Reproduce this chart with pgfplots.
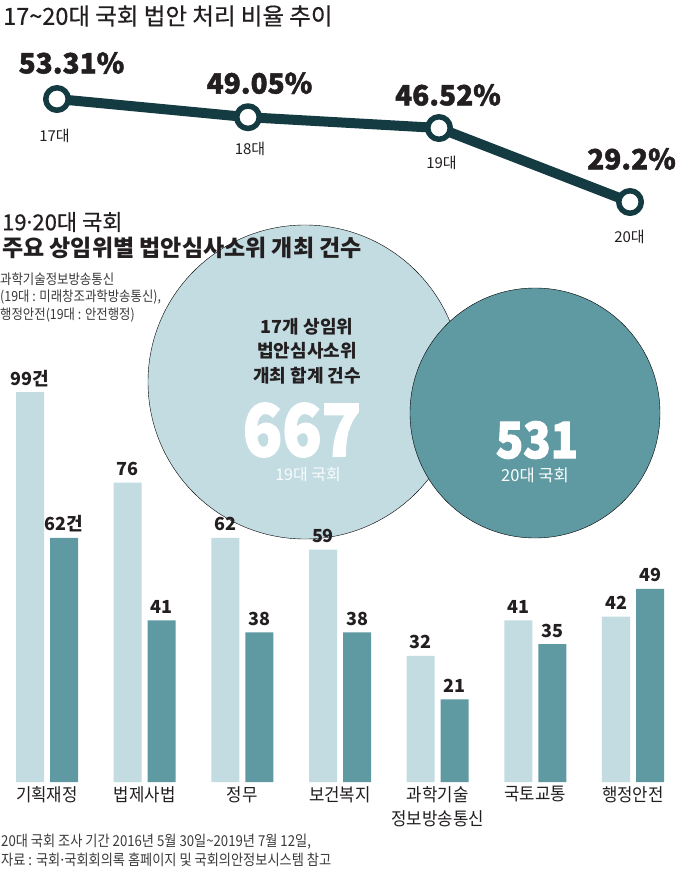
\documentclass[border=0pt]{standalone}
\usepackage{fontspec}
\usepackage{pgfplots}
\pgfplotsset{compat=1.18}
\usepackage{pgfplotstable}
\setmainfont{Noto Sans CJK KR}
\newfontfamily\cond{Noto Sans CJK KR}[FakeStretch=0.88]
\newfontfamily\condn{Noto Sans CJK KR}[FakeStretch=0.885]
\newfontfamily\condc{Noto Sans CJK KR}[FakeStretch=0.93]
\newfontfamily\med{Noto Sans CJK KR}[FakeBold=0.5]
\newfontfamily\heavy{Noto Sans CJK KR}[BoldFeatures={FakeBold=1.6}]
\newfontfamily\heavyc{Noto Sans CJK KR}[BoldFeatures={FakeBold=2.2, FakeStretch=0.9}]
\newfontfamily\lat{Noto Sans}
\newcommand\fs[2]{\fontsize{#1}{#2}\selectfont}
\newcommand\mdot{{\lat ·}}
\definecolor{lightc}{HTML}{C3DCE2}
\definecolor{darkc}{HTML}{5F9AA3}
\definecolor{linec}{HTML}{143B42}
\definecolor{textc}{HTML}{231F20}
\definecolor{notec}{HTML}{3A3A3A}

\pgfplotstableread{
x  y     lab    dx    dy   era   ex    ey
17 53.31 53.31  14.5  36   17대  -2.5  -37
18 49.05 49.05  11.5  34   18대  2     -32
19 46.52 46.52  9     33   19대  2.5   -35
20 29.2  29.2   1.5   43   20대  -0.5  -35
}\linedata

\pgfplotstableread{
i  v19 v20 l19  l20
0  99  62  99건 62건
1  76  41  76   41
2  62  38  62   38
3  59  38  59   38
4  32  21  32   21
5  41  35  41   35
6  42  49  42   49
}\bardata

\begin{document}
\begin{tikzpicture}
\path[use as bounding box] (0pt,0pt) rectangle (680pt,-870pt);
\fill[white] (0pt,0pt) rectangle (680pt,-870pt);

% canvas axis for the two total bubbles
\begin{axis}[at={(0pt,-870pt)}, anchor=south west, scale only axis,
  width=680pt, height=870pt, xmin=0, xmax=680, ymin=0, ymax=870,
  hide axis, clip=false]
\addplot[only marks, mark=*, mark size=157pt, mark options={draw=none, fill=lightc}] coordinates {(305,488)};
\addplot[only marks, mark=*, mark size=125pt, mark options={draw=none, fill=darkc}] coordinates {(535,457)};
\end{axis}

% line chart
\begin{axis}[at={(57pt,-202pt)}, anchor=south west, scale only axis,
  width=573pt, height=103pt, xmin=17, xmax=20, ymin=29.2, ymax=53.31,
  hide axis, clip=false]
\addplot[linec, line width=10pt, line join=round, mark=*, mark size=11.25pt,
  mark options={fill=white, draw=linec, line width=5.5pt},
  point meta=explicit symbolic,
  visualization depends on={\thisrow{dx}\as\dx},
  visualization depends on={\thisrow{dy}\as\dy},
  nodes near coords={\pgfplotspointmeta\%},
  every node near coord/.append style={anchor=center, xshift=\dx, yshift=\dy,
    font=\heavy\fs{28}{30}\bfseries, text=textc, inner sep=0pt}]
  table[x=x, y=y, meta=lab] {\linedata};
\addplot[draw=none, no marks,
  point meta=explicit symbolic,
  visualization depends on={\thisrow{ex}\as\ex},
  visualization depends on={\thisrow{ey}\as\ey},
  nodes near coords={\pgfplotspointmeta},
  every node near coord/.append style={anchor=center, xshift=\ex, yshift=\ey,
    font=\fs{15}{16}, text=textc, inner sep=0pt}]
  table[x=x, y=y, meta=era] {\linedata};
\end{axis}

% bar chart
\begin{axis}[at={(47pt,-782pt)}, anchor=south west, scale only axis,
  width=586pt, height=390pt, xmin=0, xmax=6, ymin=0, ymax=99,
  clip=false, axis line style={draw=none}, tick style={draw=none},
  ytick=\empty, xtick={0,...,6},
  xticklabels={기획재정, 법제사법, 정무, 보건복지, {과학기술\\정보방송통신}, 국토교통, 행정안전},
  xticklabel style={anchor=north, align=center, inner sep=0pt, yshift=-4pt,
    font=\condc\fs{18}{24}, text=textc},
  nodes near coords={\pgfplotspointmeta},
  point meta=explicit symbolic,
  every node near coord/.append style={anchor=base, yshift=7pt, inner sep=0pt,
    font=\fs{18}{20}\bfseries, text=textc}]
\addplot[ybar, bar width=28pt, bar shift=-17pt, fill=lightc, draw=none,
  every node near coord/.append style={xshift=-17pt}]
  table[x=i, y=v19, meta=l19] {\bardata};
\addplot[ybar, bar width=28pt, bar shift=17pt, fill=darkc, draw=none,
  every node near coord/.append style={xshift=17pt}]
  table[x=i, y=v20, meta=l20] {\bardata};
\end{axis}

% titles and texts
\node[anchor=west, inner sep=0pt, text=textc] at (3pt,-16pt) {\med\fs{23.5}{26}17\textasciitilde 20대 국회 법안 처리 비율 추이};
\node[anchor=west, inner sep=0pt, text=textc] at (2pt,-222pt) {\med\fs{22}{24}19\mdot 20대 국회};
\node[anchor=west, inner sep=0pt, text=textc] at (2pt,-248pt) {\fs{23}{24}\bfseries 주요 상임위별 법안심사소위 개최 건수};
\node[anchor=west, inner sep=0pt, text=notec] at (0pt,-279pt) {\condn\fs{14}{16}과학기술정보방송통신};
\node[anchor=west, inner sep=0pt, text=notec] at (0pt,-297pt) {\condn\fs{14}{16}(19대 : 미래창조과학방송통신),};
\node[anchor=west, inner sep=0pt, text=notec] at (0pt,-315pt) {\condn\fs{14}{16}행정안전(19대 : 안전행정)};

\node[align=center, inner sep=0pt, text=textc, font=\fs{18}{24.5}\bfseries] at (307pt,-351pt) {17개 상임위\\법안심사소위\\개최 합계 건수};
\node[inner sep=0pt, text=white, font=\heavyc\fs{72}{74}\bfseries] at (302pt,-430pt) {667};
\node[inner sep=0pt, text=white!92!lightc, font=\fs{16}{18}] at (308pt,-475pt) {19대 국회};
\node[inner sep=0pt, text=white, font=\heavyc\fs{50}{52}\bfseries] at (537pt,-440pt) {531};
\node[inner sep=0pt, text=white, font=\fs{16.5}{18}] at (535pt,-475pt) {20대 국회};

\node[anchor=west, inner sep=0pt, text=notec] at (1pt,-842pt) {\cond\fs{15}{16}20대 국회 조사 기간 2016년 5월 30일\textasciitilde 2019년 7월 12일,};
\node[anchor=west, inner sep=0pt, text=notec] at (1pt,-860pt) {\cond\fs{15}{16}자료 : 국회\mdot 국회회의록 홈페이지 및 국회의안정보시스템 참고};
\end{tikzpicture}
\end{document}
